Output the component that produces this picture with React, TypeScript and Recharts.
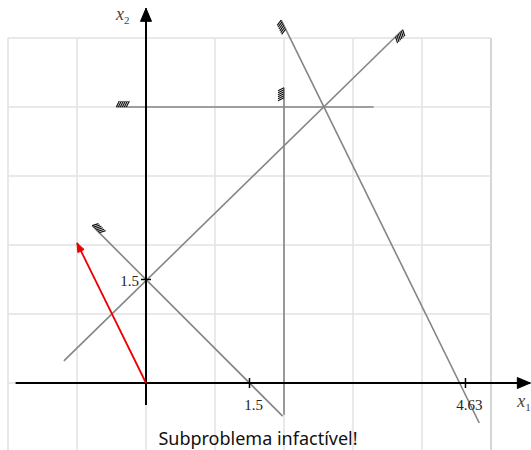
import React from "react";
import { LineChart, Line, XAxis, YAxis, ReferenceLine, ReferenceDot } from "recharts";

// constraint lines (x1, x2 in problem units)
const lineTop = [{ x: -0.43, y: 4 }, { x: 3.3, y: 4 }];
const lineVert = [{ x: 2, y: 4.28 }, { x: 2, y: -0.46 }];
const lineDiagDown = [{ x: -0.78, y: 2.28 }, { x: 1.98, y: -0.48 }];
const lineDiagUp = [{ x: -1.19, y: 0.32 }, { x: 3.72, y: 5.12 }];
const lineSteep = [{ x: 1.96, y: 5.26 }, { x: 4.83, y: -0.58 }];
const gradient = [{ x: 0, y: 0 }, { x: -1, y: 2.03 }];

const axisX1 = [{ x: -1.89, y: 0 }, { x: 5.57, y: 0 }];
const axisX2 = [{ x: 0, y: -0.32 }, { x: 0, y: 5.43 }];

const xTicks = [1.5, 4.63];
const yTicks = [1.5];
const gridX = [-2, -1, 0, 1, 2, 3, 4, 5];
const gridY = [-1, 0, 1, 2, 3, 4, 5];

const W = 531;
const H = 450;
const UNIT = 69;
const ORIGIN_X = 146;
const ORIGIN_Y = 383;
const X_DOMAIN = [-ORIGIN_X / UNIT, (W - ORIGIN_X) / UNIT];
const Y_DOMAIN = [(ORIGIN_Y - H) / UNIT, ORIGIN_Y / UNIT];

type Pt = { x: number; y: number };

// direction in pixels from point a to point b (scales are equal)
const dir = (a: Pt, b: Pt) => {
  const dx = (b.x - a.x) * UNIT;
  const dy = -(b.y - a.y) * UNIT;
  const len = Math.hypot(dx, dy);
  return [dx / len, dy / len];
};

const hatchDot = (data: Pt[], end: number, side: number) => (props: any) => {
  const { cx, cy, index } = props;
  if (index !== end) return <g key={`h-${index}`} />;
  const other = data[end === 0 ? 1 : 0];
  const [ux, uy] = dir(data[end], other);
  const nx = -uy * side;
  const ny = ux * side;
  const L = 14;
  const WD = 6;
  const strokes = [];
  for (let t = 0; t <= L - 3; t += 2) {
    strokes.push(
      <line
        key={t}
        x1={cx + ux * t}
        y1={cy + uy * t}
        x2={cx + ux * (t + 3) + nx * WD}
        y2={cy + uy * (t + 3) + ny * WD}
        stroke="#111"
        strokeWidth={1.2}
      />
    );
  }
  return <g key={`h-${index}`}>{strokes}</g>;
};

const arrowDot = (data: Pt[], len: number, half: number, color: string) => (props: any) => {
  const { cx, cy, index } = props;
  const last = data.length - 1;
  if (index !== last) return <g key={`a-${index}`} />;
  const [ux, uy] = dir(data[last - 1], data[last]);
  const bx = cx - ux * len;
  const by = cy - uy * len;
  const pts = `${cx},${cy} ${bx - uy * half},${by + ux * half} ${bx + uy * half},${by - ux * half}`;
  return <polygon key={`a-${index}`} points={pts} fill={color} stroke={color} />;
};

const serif = "'Liberation Serif', 'DejaVu Serif', serif";

const xTickShape = (label: string) => (props: any) => (
  <g>
    <line x1={props.cx} y1={props.cy - 5} x2={props.cx} y2={props.cy + 5} stroke="#000" strokeWidth={1.5} />
    <text x={props.cx + 4} y={props.cy + 27} textAnchor="middle" fontFamily={serif} fontSize={15} fill="#222">
      {label}
    </text>
  </g>
);

const yTickShape = (label: string) => (props: any) => (
  <g>
    <line x1={props.cx - 5} y1={props.cy} x2={props.cx + 5} y2={props.cy} stroke="#000" strokeWidth={1.5} />
    <text x={props.cx - 7} y={props.cy + 6} textAnchor="end" fontFamily={serif} fontSize={15} fill="#222">
      {label}
    </text>
  </g>
);

const axisLabel = (sub: string, dx: number, dy: number) => (props: any) => (
  <text x={props.cx + dx} y={props.cy + dy} fontFamily={serif} fontSize={18} fill="#444">
    <tspan fontStyle="italic">x</tspan>
    <tspan fontSize={11} dy={4}>{sub}</tspan>
  </text>
);

const constraints: { data: Pt[]; end: number; side: number }[] = [
  { data: lineTop, end: 0, side: -1 },
  { data: lineVert, end: 0, side: 1 },
  { data: lineDiagDown, end: 0, side: -1 },
  { data: lineDiagUp, end: 1, side: -1 },
  { data: lineSteep, end: 0, side: 1 },
];

export default function App() {
  return (
    <div style={{ position: "absolute", left: 0, top: 0, width: W, height: H, background: "#fff" }}>
      <LineChart width={W} height={H} margin={{ top: 0, right: 0, bottom: 0, left: 0 }}>
        <XAxis type="number" dataKey="x" domain={X_DOMAIN} allowDataOverflow hide />
        <YAxis type="number" dataKey="y" domain={Y_DOMAIN} allowDataOverflow hide />
        {gridX.map((g) => (
          <ReferenceLine
            key={`gx${g}`}
            segment={[{ x: g, y: -1 }, { x: g, y: 5 }]}
            stroke={g === 5 ? "#c8c8c8" : "#e2e2e2"}
            strokeWidth={1.5}
            ifOverflow="visible"
          />
        ))}
        {gridY.map((g) => (
          <ReferenceLine
            key={`gy${g}`}
            segment={[{ x: -2, y: g }, { x: 5, y: g }]}
            stroke="#e2e2e2"
            strokeWidth={1.5}
            ifOverflow="visible"
          />
        ))}
        {constraints.map((c, i) => (
          <Line
            key={`c${i}`}
            data={c.data}
            dataKey="y"
            stroke="#858585"
            strokeWidth={1.6}
            dot={hatchDot(c.data, c.end, c.side)}
            activeDot={false}
            isAnimationActive={false}
          />
        ))}
        <Line
          data={axisX1}
          dataKey="y"
          stroke="#000"
          strokeWidth={2}
          dot={arrowDot(axisX1, 13, 5.5, "#000")}
          activeDot={false}
          isAnimationActive={false}
        />
        <Line
          data={axisX2}
          dataKey="y"
          stroke="#000"
          strokeWidth={2}
          dot={arrowDot(axisX2, 13, 5.5, "#000")}
          activeDot={false}
          isAnimationActive={false}
        />
        <Line
          data={gradient}
          dataKey="y"
          stroke="#ee0000"
          strokeWidth={1.8}
          dot={arrowDot(gradient, 9, 3.5, "#ee0000")}
          activeDot={false}
          isAnimationActive={false}
        />
        {xTicks.map((t) => (
          <ReferenceDot key={`xt${t}`} x={t} y={0} r={0} ifOverflow="visible" shape={xTickShape(String(t))} />
        ))}
        {yTicks.map((t) => (
          <ReferenceDot key={`yt${t}`} x={0} y={t} r={0} ifOverflow="visible" shape={yTickShape(String(t))} />
        ))}
        <ReferenceDot x={5.57} y={0} r={0} ifOverflow="visible" shape={axisLabel("1", -13, 24)} />
        <ReferenceDot x={0} y={5.43} r={0} ifOverflow="visible" shape={axisLabel("2", -30, 12)} />
      </LineChart>
      <div
        style={{
          position: "absolute",
          left: 0,
          width: 516,
          top: 426,
          textAlign: "center",
          fontFamily: "'Noto Sans', sans-serif",
          fontSize: 18,
          color: "#111",
        }}
      >
        Subproblema infactível!
      </div>
    </div>
  );
}
